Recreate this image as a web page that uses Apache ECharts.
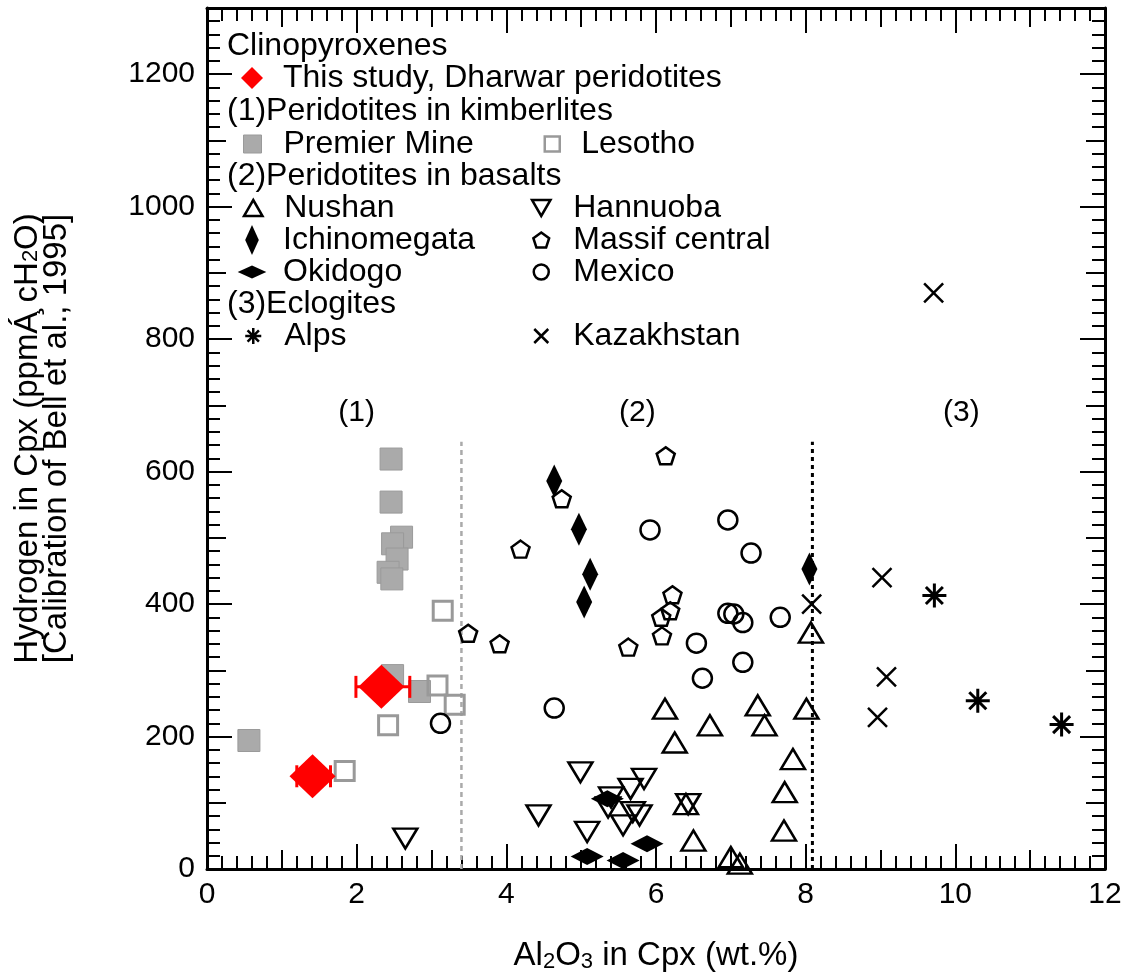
<!DOCTYPE html>
<html lang="en">
<head>
<meta charset="UTF-8">
<title>Hydrogen in Cpx vs Al2O3</title>
<script src="https://cdn.jsdelivr.net/npm/echarts@6/dist/echarts.min.js"></script>
<style>
  html, body { margin: 0; background: #fff; }
  #chart { width: 1129px; height: 980px; }
</style>
</head>
<body>
<div id="chart"></div>
<script>
// values: [Al2O3 wt.%, H ppm H2O]
const thisStudy      = [[1.41, 140], [2.33, 275]];
const thisStudyXErr  = [[1.20, 1.65], [1.99, 2.71]];
const premierMine    = [[2.46, 619], [2.46, 554], [2.60, 501], [2.48, 491], [2.54, 468], [2.42, 448], [2.47, 438], [2.48, 292], [2.84, 268], [0.56, 194]];
const lesotho        = [[3.15, 390], [3.08, 277], [3.31, 248], [2.42, 217], [1.84, 148]];
const nushan         = [[8.07, 357], [6.12, 242], [7.36, 247], [8.01, 242], [6.72, 217], [7.45, 217], [6.25, 191], [7.83, 166], [7.72, 116], [6.40, 98], [7.71, 58], [6.50, 43], [7.00, 18], [7.12, 8]];
const hannuoba       = [[4.99, 146], [4.43, 81], [5.08, 56], [5.40, 108], [5.36, 93], [5.84, 136], [5.66, 121], [5.69, 86], [5.78, 81], [5.56, 66], [6.43, 98], [2.65, 46]];
const ichinomegata   = [[4.64, 586], [4.97, 513], [5.12, 445], [5.04, 403], [8.05, 453]];
const massifCentral  = [[6.13, 624], [4.74, 559], [4.19, 483], [6.22, 414], [6.19, 390], [6.07, 380], [6.08, 352], [5.63, 335], [3.49, 356], [3.91, 340]];
const okidogo        = [[5.35, 106], [5.08, 19], [5.56, 13], [5.88, 38]];
const mexico         = [[5.92, 512], [6.96, 527], [7.27, 477], [6.96, 386], [7.04, 385], [7.16, 372], [7.66, 380], [6.54, 341], [7.16, 312], [6.62, 288], [4.64, 243], [3.12, 220]];
const alps           = [[9.72, 413], [10.30, 254], [11.42, 218]];
const kazakhstan     = [[9.71, 870], [9.02, 440], [9.08, 290], [8.96, 229], [8.08, 400]];

// group boundaries and their labels
const boundaryX      = [3.4, 8.09];
const boundaryTop    = 645;
const groupLabels    = ['(1)', '(2)', '(3)'];
const groupLabelX    = [2.0, 5.75, 10.08];
const groupLabelY    = 689;

const legendHeaders  = ['Clinopyroxenes', '(1)Peridotites in kimberlites', '(2)Peridotites in basalts', '(3)Eclogites'];

const FONT = 'Liberation Sans, Arial, Helvetica, sans-serif';
const RED = '#ff0000';
const GREY = '#aaaaaa';

const P_RECT = 'path://M0,0L10,0L10,10L0,10Z';
const P_DIAMOND = 'path://M5,0L10,5L5,10L0,5Z';
const P_UP = 'path://M5,0L10,8.66L0,8.66Z';
const P_DOWN = 'path://M0,0L10,0L5,8.66Z';
const P_TALL = 'path://M5,0L10,11L5,22L0,11Z';
const P_WIDE = 'path://M0,5L11,0L22,5L11,10Z';
const P_PENT = 'path://M10,0L19.51,6.91L15.88,18.09L4.12,18.09L0.49,6.91Z';
const P_STAR = 'path://M5,0L5,10M0,5L10,5M1.46,1.46L8.54,8.54M8.54,1.46L1.46,8.54';
const P_CROSS = 'path://M0,0L10,10M10,0L0,10';

const hollow = 'rgba(0,0,0,0)';

// series look: symbol in plot, symbol in legend (height + aspect), legend slot
const groups = [
  { name: 'Premier Mine', data: premierMine, symbol: 'rect', size: 22, fill: GREY, stroke: '#9a9a9a', lw: 1,
    icon: P_RECT, iconH: 18, asp: 1, col: 1, row: 144 },
  { name: 'Lesotho', data: lesotho, symbol: 'rect', size: 19, fill: hollow, stroke: '#999999', lw: 3,
    icon: P_RECT, iconH: 15, asp: 1, col: 3, row: 144 },
  { name: 'Massif central', data: massifCentral, symbol: P_PENT, size: [18, 17], fill: hollow, stroke: '#000', lw: 2.5,
    icon: P_PENT, iconH: 15, asp: 1.05, col: 2, row: 240 },
  { name: 'Mexico', data: mexico, symbol: 'circle', size: 19, fill: hollow, stroke: '#000', lw: 2.5,
    icon: 'circle', iconH: 15, asp: 1, col: 2, row: 272 },
  { name: 'Nushan', data: nushan, symbol: 'triangle', size: [24, 20], fill: hollow, stroke: '#000', lw: 2.5,
    icon: P_UP, iconH: 16, asp: 1.155, col: 1, row: 208 },
  { name: 'Hannuoba', data: hannuoba, symbol: P_DOWN, size: [24, 20], fill: hollow, stroke: '#000', lw: 2.5,
    icon: P_DOWN, iconH: 16, asp: 1.155, col: 2, row: 208 },
  { name: 'Ichinomegata', data: ichinomegata, symbol: 'diamond', size: [16, 33], fill: '#000', stroke: '#000', lw: 0,
    icon: P_TALL, iconH: 30, asp: 0.4545, col: 1, row: 240 },
  { name: 'Okidogo', data: okidogo, symbol: 'diamond', size: [33, 17], fill: '#000', stroke: '#000', lw: 0,
    icon: P_WIDE, iconH: 13, asp: 2.2, col: 1, row: 272 },
  { name: 'Alps', data: alps, symbol: P_STAR, size: 24, fill: hollow, stroke: '#000', lw: 3,
    icon: P_STAR, iconH: 16, asp: 1, col: 1, row: 336 },
  { name: 'Kazakhstan', data: kazakhstan, symbol: P_CROSS, size: 19, fill: hollow, stroke: '#000', lw: 2.5,
    icon: P_CROSS, iconH: 14, asp: 1, col: 2, row: 336 },
  { name: 'This study, Dharwar peridotites', data: thisStudy, symbol: 'diamond', size: [46, 44], fill: RED, stroke: RED, lw: 0,
    icon: P_DIAMOND, iconH: 22, asp: 1, col: 1, row: 78 }
];

// legend columns: icon centre and text start
const legendCols = { 1: [252, 283], 2: [540, 572], 3: [551, 580] };
const LEGEND_FS = 32;

const chart = echarts.init(document.getElementById('chart'));

function tickAxis(dim, pos, interval, len, withLabels) {
  const isX = dim === 'x';
  return {
    type: 'value',
    position: pos,
    min: 0,
    max: isX ? 12 : 1300,
    interval: interval,
    axisLine: { show: withLabels, onZero: false, lineStyle: { color: '#000', width: 3 } },
    axisTick: { show: true, inside: true, length: len, lineStyle: { color: '#000', width: 2 } },
    axisLabel: {
      show: withLabels && (pos === 'bottom' || pos === 'left'),
      showMaxLabel: isX, color: '#000', fontFamily: FONT, fontSize: 30,
      margin: isX ? 11 : 12,
      formatter: function (v) { return String(v); }
    },
    splitLine: { show: false }
  };
}

const xAxes = [], yAxes = [];
['bottom', 'top'].forEach(function (p) {
  xAxes.push(tickAxis('x', p, 2, 25, true));
  xAxes.push(tickAxis('x', p, 1, 19, false));
  xAxes.push(tickAxis('x', p, 0.2, 13, false));
});
['left', 'right'].forEach(function (p) {
  yAxes.push(tickAxis('y', p, 200, 25, true));
  yAxes.push(tickAxis('y', p, 100, 19, false));
  yAxes.push(tickAxis('y', p, 20, 13, false));
});

xAxes[0].name = 'Al{s|2}O{s|3} in Cpx (wt.%)';
xAxes[0].nameLocation = 'middle';
xAxes[0].nameGap = 69;
xAxes[0].nameTextStyle = {
  color: '#000', fontFamily: FONT, fontSize: 33, lineHeight: 35,
  rich: { s: { fontFamily: FONT, fontSize: 22, verticalAlign: 'bottom', lineHeight: 29, color: '#000' } }
};
yAxes[0].name = 'Hydrogen in Cpx (ppm\u00C1\u0327 cH{s|2}O)\n[Calibration of Bell et al., 1995]';
yAxes[0].nameLocation = 'middle';
yAxes[0].nameGap = 136;
yAxes[0].nameTextStyle = {
  color: '#000', fontFamily: FONT, fontSize: 33, lineHeight: 29,
  rich: { s: { fontFamily: FONT, fontSize: 22, verticalAlign: 'bottom', lineHeight: 24, color: '#000' } }
};

const series = [];

boundaryX.forEach(function (bx, i) {
  series.push({
    type: 'line', silent: true, symbol: 'none', z: 1,
    data: [[bx, 0], [bx, boundaryTop]],
    lineStyle: i === 0 ? { color: GREY, width: 2.5, type: [5, 4] } : { color: '#000', width: 3, type: [4, 4] }
  });
});

// (1) (2) (3) captions placed through the axes
series.push({
  type: 'custom', silent: true, z: 1,
  data: groupLabels.map(function (t, i) { return [groupLabelX[i], groupLabelY, i]; }),
  renderItem: function (params, api) {
    const p = api.coord([api.value(0), api.value(1)]);
    return {
      type: 'text', x: p[0], y: p[1],
      style: { text: groupLabels[api.value(2)], fill: '#000', font: '30px ' + FONT,
        align: 'center', verticalAlign: 'middle' }
    };
  }
});

groups.forEach(function (g, i) {
  series.push({
    name: g.name, type: 'scatter', clip: false, data: g.data,
    symbol: g.symbol, symbolSize: g.size, z: 2 + i,
    itemStyle: { color: g.fill, borderColor: g.stroke, borderWidth: g.lw, opacity: 1 },
    emphasis: { disabled: true }
  });
});

// horizontal error bars for this study
series.push({
  type: 'custom', z: 12, silent: true,
  data: thisStudy.map(function (d, i) { return [d[0], d[1], thisStudyXErr[i][0], thisStudyXErr[i][1]]; }),
  renderItem: function (params, api) {
    const a = api.coord([api.value(2), api.value(1)]);
    const b = api.coord([api.value(3), api.value(1)]);
    const st = { stroke: RED, lineWidth: 3 };
    return {
      type: 'group', children: [
        { type: 'line', shape: { x1: a[0], y1: a[1], x2: b[0], y2: b[1] }, style: st },
        { type: 'line', shape: { x1: a[0], y1: a[1] - 11, x2: a[0], y2: a[1] + 11 }, style: st },
        { type: 'line', shape: { x1: b[0], y1: b[1] - 11, x2: b[0], y2: b[1] + 11 }, style: st }
      ]
    };
  }
});
series[series.length - 2].z = 13;

// one legend per entry; the legend box starts at the drawn icon
const legends = groups.map(function (g) {
  const c = legendCols[g.col];
  const iw = g.iconH * g.asp;
  const left = c[0] - iw / 2;
  const w = 2 * (c[1] - 5 - left) - iw;
  return {
    data: [{ name: g.name, icon: g.icon,
      itemStyle: { color: g.fill, borderColor: g.stroke, borderWidth: g.lw > 1 ? 2.5 : g.lw } }],
    left: left, top: g.row - LEGEND_FS / 2, padding: 0,
    itemWidth: w, itemHeight: g.iconH, selectedMode: false,
    textStyle: { color: '#000', fontFamily: FONT, fontSize: LEGEND_FS, lineHeight: LEGEND_FS }
  };
});

const headerRows = [46, 111, 176, 304];
const graphics = legendHeaders.map(function (t, i) {
  return {
    type: 'text', left: 227, top: headerRows[i] - LEGEND_FS / 2,
    style: { text: t, fill: '#000', font: LEGEND_FS + 'px ' + FONT, lineHeight: LEGEND_FS }
  };
});

chart.setOption({
  animation: false,
  backgroundColor: '#fff',
  grid: { left: 207, right: 24, top: 8, bottom: 111, containLabel: false },
  xAxis: xAxes,
  yAxis: yAxes,
  legend: legends,
  graphic: graphics,
  series: series
});
</script>
</body>
</html>
